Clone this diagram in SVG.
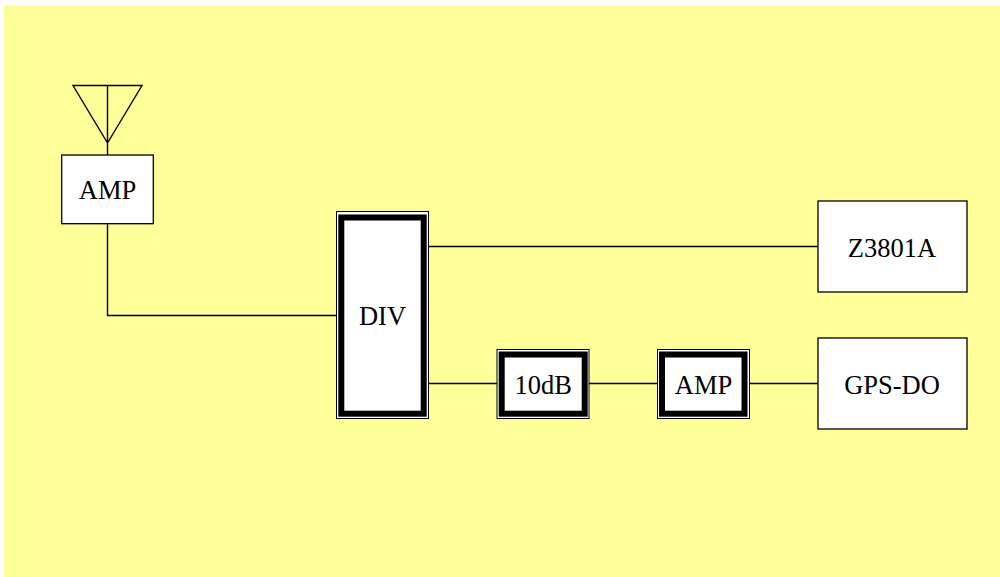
<svg xmlns="http://www.w3.org/2000/svg" width="1000" height="577" viewBox="0 0 1000 577">
<style>
text{font-family:"Liberation Serif","Times New Roman",serif;font-size:26.500px;fill:#000;text-anchor:middle}
.box{fill:#fff;stroke:#000;stroke-width:1.3}
.out{fill:#fff;stroke:#000;stroke-width:1}
.in{fill:#fff;stroke:#000;stroke-width:6}
.line{fill:none;stroke:#000;stroke-width:1.4}
</style>
<rect width="1000" height="577" fill="#fff"/>
<rect x="4" y="5.500" width="996" height="571.500" fill="#ffff99"/>
<g id="connectors">
<path class="line" d="M107.500 155V224V315.500H336"/>
<path class="line" d="M428 246.500H818"/>
<path class="line" d="M428 383.500H497"/>
<path class="line" d="M589 383.500H658"/>
<path class="line" d="M749 383.500H818"/>
</g>
<g id="antenna"><path class="line" d="M73 85.500H142L107.500 143ZM107.500 85.500V155"/></g>
<g id="amp1"><rect class="box" x="61.700" y="155" width="91.600" height="68.700"/><text x="107.500" y="199.300">AMP</text></g>
<g id="div"><rect class="out" x="336.500" y="211.500" width="92" height="207"/><rect class="in" x="341.300" y="217.500" width="82.400" height="196.200"/><text x="382.500" y="325">DIV</text></g>
<g id="attenuator"><rect class="out" x="497" y="349.500" width="92" height="69"/><rect class="in" x="501.700" y="354.500" width="83" height="59.200"/><text x="543.300" y="394">10dB</text></g>
<g id="amp2"><rect class="out" x="657.500" y="349.500" width="92" height="69"/><rect class="in" x="662" y="354.500" width="82.500" height="59.200"/><text x="703.500" y="394">AMP</text></g>
<g id="z3801a"><rect class="box" x="818" y="201" width="149" height="91"/><text x="892" y="257">Z3801A</text></g>
<g id="gpsdo"><rect class="box" x="818" y="338" width="149" height="91"/><text x="892" y="394">GPS-DO</text></g>
</svg>
